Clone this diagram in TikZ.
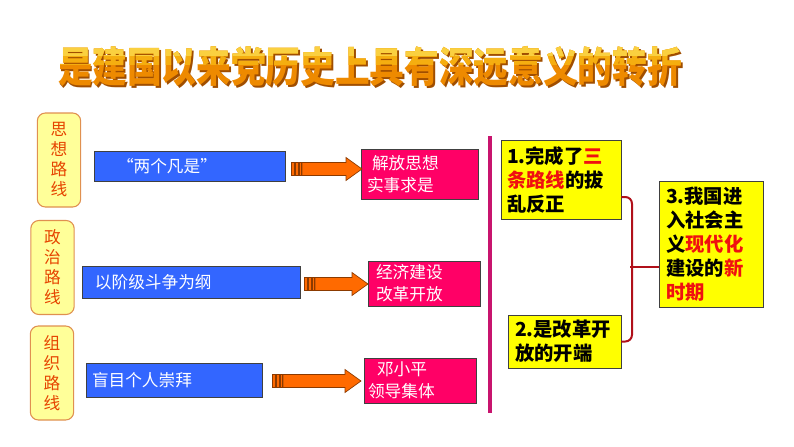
\documentclass[tikz,border=0pt]{standalone}
\usepackage{fontspec}
\setmainfont{Noto Sans CJK SC}
\usetikzlibrary{calc}

\definecolor{titleshadow}{HTML}{A04E00}
\definecolor{titleorange}{HTML}{EE8A00}
\definecolor{titlemid}{HTML}{F5AE10}
\definecolor{titlelight}{HTML}{FAD040}
\definecolor{labelfill}{HTML}{FFFF99}
\definecolor{labelline}{HTML}{E09050}
\definecolor{labeltext}{HTML}{E64400}
\definecolor{oldfill}{HTML}{3366FF}
\definecolor{newfill}{HTML}{FF0066}
\definecolor{resfill}{HTML}{FFFF00}
\definecolor{hotred}{HTML}{F01010}
\definecolor{barcolor}{HTML}{C8146E}
\definecolor{bracecolor}{HTML}{B0101A}
\definecolor{arrowfill}{HTML}{FF6A00}
\definecolor{arrowline}{HTML}{8B3A00}

\newcommand{\titletxt}{\scalebox{1}[1.2]{是建国以来党历史上具有深远意义的转折}}
% striped block arrow: #1 start, #2 tip
\newcommand{\stripearrow}[2]{%
  \foreach \a/\b in {0/3,4/7,8/10}
    \filldraw[arrowstyle] ($(#1)+(\a,-6.5)$) rectangle ($(#1)+(\b,6.5)$);
  \filldraw[arrowstyle] ($(#1)+(11,-6.5)$) -- ($(#2)+(-16,-6.5)$) -- ($(#2)+(-16,-11.5)$)
    -- (#2) -- ($(#2)+(-16,11.5)$) -- ($(#2)+(-16,6.5)$) -- ($(#1)+(11,6.5)$) -- cycle;
}

\begin{document}
\begin{tikzpicture}[x=0.75pt,y=-0.75pt,
  titletext/.style={font=\fontsize{26}{30}\bfseries\selectfont, inner sep=0pt},
  labelbox/.style={draw=labelline, fill=labelfill, line width=0.8pt, rounded corners=6pt,
    minimum width=32.5pt, minimum height=70.5pt, inner sep=0pt, align=center,
    text=labeltext, font=\fontsize{12.5}{15}\selectfont},
  oldbox/.style={draw=black!75, fill=oldfill, line width=0.6pt, inner xsep=4.5pt, inner ysep=0pt,
    align=left, text=white, font=\fontsize{12.5}{16}\selectfont},
  newbox/.style={draw=black!75, fill=newfill, line width=0.6pt, inner xsep=3pt, inner ysep=0pt,
    align=left, text=white, font=\fontsize{12.5}{16.5}\selectfont},
  resbox/.style={draw=black!75, fill=resfill, line width=0.6pt, inner ysep=0pt,
    align=left, text=black, font=\fontsize{14.5}{18}\bfseries\selectfont},
  arrowstyle/.style={fill=arrowfill, draw=arrowline, line width=0.5pt},
  bracket/.style={draw=bracecolor, line width=1.5pt}]
\useasboundingbox (0,0) rectangle (794,447);

% title
\node[titletext, text=titleshadow] at (372,69) {\titletxt};
\node[titletext, text=titleorange] (title) at (370,67) {\titletxt};
\begin{scope}
  \clip (0,0) rectangle (794,64);
  \node[titletext, text=titlemid] at (370,67) {\titletxt};
\end{scope}
\begin{scope}
  \clip (0,0) rectangle (794,55);
  \node[titletext, text=titlelight] at (370,67) {\titletxt};
\end{scope}

% three lines
\node[labelbox] (lab1) at (59,160) {思\\想\\路\\线};
\node[labelbox] (lab2) at (52.5,267.5) {政\\治\\路\\线};
\node[labelbox] (lab3) at (52,373) {组\\织\\路\\线};

\node[oldbox, text width=134.25pt, minimum height=22.5pt] (old1) at (189.5,166) {\hspace{12.75pt}“两个凡是”};
\node[oldbox, text width=154.5pt, minimum height=24pt] (old2) at (191,282) {\hspace{5.25pt}以阶级斗争为纲};
\node[oldbox, text width=123pt, minimum height=25.5pt] (old3) at (174,380) {盲目个人崇拜};

\node[newbox, text width=81.75pt, minimum height=37.5pt] (new1) at (419.5,174) {\hspace{5.25pt}解放思想\\\hspace{1.5pt}实事求是};
\node[newbox, text width=78pt, minimum height=33.75pt] (new2) at (424,283.5) {\hspace{3pt}经济建设\\\hspace{3pt}改革开放};
\node[newbox, text width=78pt, minimum height=33.75pt] (new3) at (420,380.5) {\hspace{6.75pt}邓小平\\领导集体};

\coordinate (s1) at (291,169);
\coordinate (t1) at (362,169);
\coordinate (s2) at (304,284);
\coordinate (t2) at (368,284);
\coordinate (s3) at (272,381);
\coordinate (t3) at (361,381);
\stripearrow{s1}{t1}
\stripearrow{s2}{t2}
\stripearrow{s3}{t3}

% divider
\fill[barcolor] (488,136) rectangle (492,413);

% results
\node[resbox, inner xsep=4.5pt, text width=81pt, minimum height=59.25pt] (res1) at (561,179.5)
  {1.完成了\textcolor{hotred}{三}\\\textcolor{hotred}{条路线}的拔\\乱反正};
\node[resbox, inner xsep=5.25pt, text width=74.25pt, minimum height=39.75pt] (res2) at (564.5,341.5)
  {2.是改革开\\放的开端};
\node[resbox, inner xsep=5.25pt, text width=67.5pt, minimum height=94.5pt] (res3) at (711,244)
  {3.我国进\\入社会主\\义\textcolor{hotred}{现代化}\\建设的\textcolor{hotred}{新}\\\textcolor{hotred}{时期}};

\coordinate (mid) at (632,267);
\draw[bracket, rounded corners=5pt] ($(res1.east)+(0,17.5)$) -| (mid) |- (res2.east);
\draw[bracket] ($(mid)+(-2,0)$) -- (res3.west |- mid);
\end{tikzpicture}
\end{document}
